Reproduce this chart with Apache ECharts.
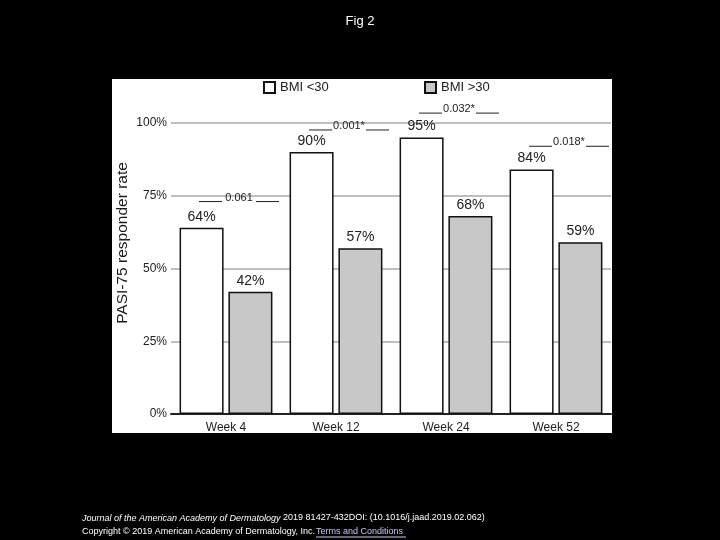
<!DOCTYPE html>
<html><head><meta charset="utf-8">
<script src="https://cdn.jsdelivr.net/npm/echarts@6/dist/echarts.min.js"></script>
<style>html,body{margin:0;padding:0;background:#000;}#c{width:720px;height:540px;}</style>
</head><body><div id="c"></div>
<script>
const categories = ['Week 4', 'Week 12', 'Week 24', 'Week 52'];
const bmiUnder30 = [64, 90, 95, 84];
const bmiOver30 = [42, 57, 68, 59];
const yTickStep = 25;
const yMax = 100;
const pLabels = ['0.061', '0.001*', '0.032*', '0.018*'];
const pLevels = [73, 97.6, 103.4, 92];

const FONT = '"Liberation Sans", Arial, sans-serif';
const chart = echarts.init(document.getElementById('c'), null, {renderer: 'canvas'});

const option = {
  backgroundColor: '#000',
  animation: false,
  title: {
    text: 'Fig 2', left: 'center', top: 10,
    textStyle: {color: '#fff', fontSize: 13, fontWeight: 'normal', fontFamily: FONT}
  },
  graphic: [
    {type: 'rect', z: -10, shape: {x: 112, y: 79, width: 500, height: 354}, style: {fill: '#fff'}},
    {type: 'text', x: 123, y: 243, rotation: Math.PI / 2,
      style: {text: 'PASI-75 responder rate', align: 'center', verticalAlign: 'middle',
        fill: '#1a1a1a', fontSize: 15.5, fontFamily: FONT}},
    {type: 'text', x: 82, y: 518,
      style: {text: '{i|Journal of the American Academy of Dermatology} 2019 81427-432DOI: (10.1016/j.jaad.2019.02.062)',
        verticalAlign: 'middle', fill: '#fff', fontSize: 9, fontFamily: FONT,
        rich: {i: {fontStyle: 'italic', fill: '#fff', fontSize: 9, fontFamily: FONT}}}},
    {type: 'text', x: 82, y: 532,
      style: {text: 'Copyright \u00A9 2019 American Academy of Dermatology, Inc.',
        verticalAlign: 'middle', fill: '#fff', fontSize: 9, fontFamily: FONT}},
    {type: 'text', x: 316, y: 532,
      style: {text: 'Terms and Conditions',
        verticalAlign: 'middle', fill: '#c8c8f0', fontSize: 9, fontFamily: FONT}},
    {type: 'line', shape: {x1: 316, y1: 537, x2: 406, y2: 537}, style: {stroke: '#c8c8f0', lineWidth: 1}}
  ],
  legend: [
    {data: ['BMI <30'], left: 258, top: 76, itemWidth: 11, itemHeight: 11, icon: 'rect',
      textStyle: {fontSize: 13, color: '#222', fontFamily: FONT}},
    {data: ['BMI >30'], left: 419, top: 76, itemWidth: 11, itemHeight: 11, icon: 'rect',
      textStyle: {fontSize: 13, color: '#222', fontFamily: FONT}}
  ],
  grid: {left: 171, right: 109, top: 123, bottom: 126, containLabel: false},
  xAxis: {
    type: 'category', data: categories,
    axisLine: {show: true, lineStyle: {color: '#222', width: 2}},
    axisTick: {show: false},
    axisLabel: {color: '#222', fontSize: 12, margin: 8, fontFamily: FONT},
    splitLine: {show: false}
  },
  yAxis: {
    type: 'value', min: 0, max: yMax, interval: yTickStep,
    axisLine: {show: false}, axisTick: {show: false},
    axisLabel: {formatter: '{value}%', color: '#222', fontSize: 12, margin: 4, fontFamily: FONT},
    splitLine: {lineStyle: {color: '#aaa', width: 1.5}}
  },
  series: [
    {name: 'BMI <30', type: 'bar', data: bmiUnder30, barWidth: 44, barGap: '11%',
      itemStyle: {color: '#fff', borderColor: '#111', borderWidth: 1.5},
      label: {show: true, position: 'top', distance: 4, formatter: '{c}%', color: '#222', fontSize: 14, fontFamily: FONT}},
    {name: 'BMI >30', type: 'bar', data: bmiOver30, barWidth: 44, barGap: '11%',
      itemStyle: {color: '#c8c8c8', borderColor: '#111', borderWidth: 1.5},
      label: {show: true, position: 'top', distance: 4, formatter: '{c}%', color: '#222', fontSize: 14, fontFamily: FONT}},
    {name: 'p', type: 'custom', clip: false, z: 5,
      data: pLevels.map((v, i) => [i, v]),
      renderItem: function (params, api) {
        const p = api.coord([api.value(0), api.value(1)]);
        const cx = p[0] + 13, y = p[1];
        return {type: 'group', children: [
          {type: 'line', shape: {x1: cx - 40, y1: y, x2: cx - 17, y2: y}, style: {stroke: '#222', lineWidth: 1}},
          {type: 'line', shape: {x1: cx + 17, y1: y, x2: cx + 40, y2: y}, style: {stroke: '#222', lineWidth: 1}},
          {type: 'text', x: cx, y: y - 4, style: {text: pLabels[params.dataIndex], align: 'center', verticalAlign: 'middle',
            fill: '#222', fontSize: 11, fontFamily: FONT}}
        ]};
      }}
  ]
};
chart.setOption(option);
</script></body></html>
